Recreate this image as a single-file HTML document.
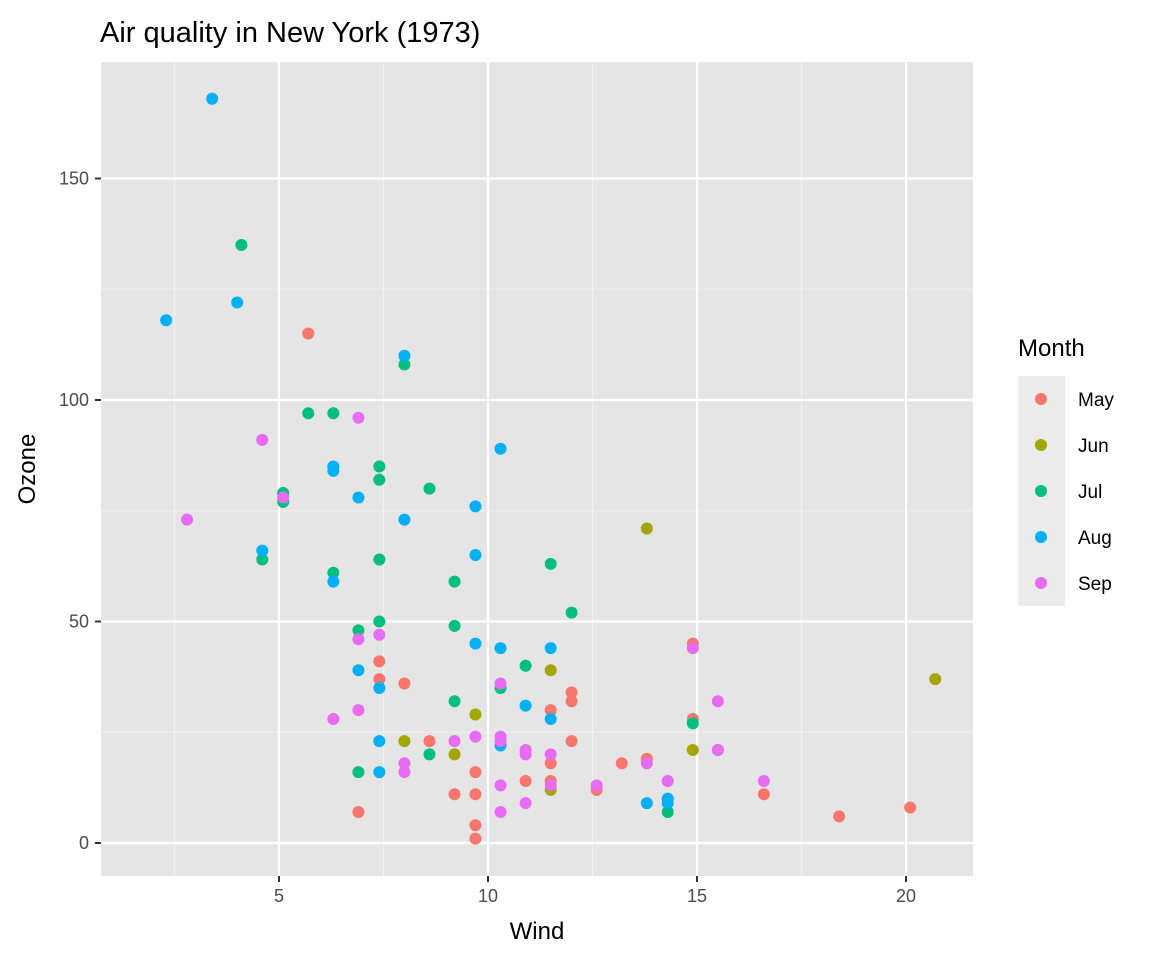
<!DOCTYPE html>
<html><head><meta charset="utf-8"><style>
body{margin:0;background:#fff;font-family:"Liberation Sans",Arial,sans-serif}
</style></head><body>
<svg id="chart" width="1152" height="960" xmlns="http://www.w3.org/2000/svg">
<text x="100" y="42" font-size="29" fill="#000">Air quality in New York (1973)</text>
<rect x="101" y="62" width="872" height="814" fill="#e5e5e5"/>
<g id="grid"></g>
<g id="axes"></g>
<g id="points"></g>
<text x="537" y="939" font-size="24" text-anchor="middle" fill="#000">Wind</text>
<text transform="translate(35,469) rotate(-90)" font-size="24" text-anchor="middle" fill="#000">Ozone</text>
<g id="legend">
<text x="1018" y="356" font-size="24" fill="#000">Month</text>
<rect x="1018" y="376" width="47" height="230" fill="#ebebeb"/>
</g>
</svg>
<script>
const months = ["May","Jun","Jul","Aug","Sep"];
const colors = ["#F8766D","#A3A500","#00BF7D","#00B0F6","#E76BF3"];
const xTicks = [5,10,15,20];
const yTicks = [0,50,100,150];
const xMinor = [2.5,7.5,12.5,17.5];
const yMinor = [25,75,125];
const windMay = [7.4,8.0,12.6,11.5,14.9,8.6,13.8,20.1,6.9,9.7,9.2,10.9,13.2,11.5,12.0,18.4,11.5,9.7,9.7,16.6,9.7,12.0,12.0,14.9,5.7,7.4];
const ozoneMay = [41,36,12,18,28,23,19,8,7,16,11,14,18,14,34,6,30,11,1,11,4,32,23,45,115,37];
const windJun = [13.8,20.7,11.5,9.7,8.0,9.2,14.9,11.5];
const ozoneJun = [71,37,39,29,23,20,21,12];
const windJul = [4.1,8.0,5.7,6.3,7.4,7.4,8.6,5.1,5.1,4.6,6.3,7.4,9.2,11.5,12.0,7.4,6.9,9.2,10.9,10.3,9.2,14.9,8.6,6.9,14.3,14.3];
const ozoneJul = [135,108,97,97,85,82,80,79,77,64,61,64,59,63,52,50,48,49,40,35,32,27,20,16,10,7];
const windAug = [3.4,2.3,4.0,8.0,6.3,6.3,10.3,6.9,8.0,9.7,4.6,6.3,9.7,9.7,10.3,11.5,6.9,7.4,10.9,11.5,7.4,10.3,7.4,13.8,14.3,15.5,14.3];
const ozoneAug = [168,118,122,110,85,84,89,78,73,76,66,59,65,45,44,44,39,35,31,28,23,22,16,9,9,21,10];
const windSep = [2.8,4.6,6.9,5.1,6.9,7.4,6.3,6.9,8.0,8.0,9.2,9.7,10.3,10.3,10.3,10.9,10.9,11.5,11.5,12.6,13.8,14.3,15.5,15.5,16.6,10.3,10.3,10.9,14.9];
const ozoneSep = [73,91,96,78,46,47,28,30,18,16,23,24,36,23,24,21,20,20,13,13,18,14,32,21,14,13,7,9,44];
const seriesWind = [windMay,windJun,windJul,windAug,windSep];
const seriesOzone = [ozoneMay,ozoneJun,ozoneJul,ozoneAug,ozoneSep];

const NS="http://www.w3.org/2000/svg";
function X(v){return 70+v*41.8;}
function Y(v){return 843-v*4.43;}
function mk(tag,attrs,parent){const e=document.createElementNS(NS,tag);for(const k in attrs)e.setAttribute(k,attrs[k]);parent.appendChild(e);return e;}
const grid=document.getElementById('grid'),axes=document.getElementById('axes'),pts=document.getElementById('points'),leg=document.getElementById('legend');
xMinor.forEach(v=>{const l=mk('line',{x1:X(v),x2:X(v),y1:62,y2:876,stroke:'#f2f2f2','stroke-width':1.1},grid);

});
yMinor.forEach(v=>{const l=mk('line',{x1:101,x2:973,y1:Y(v),y2:Y(v),stroke:'#f2f2f2','stroke-width':1.1},grid);

});
xTicks.forEach(v=>{const l=mk('line',{x1:X(v),x2:X(v),y1:62,y2:876,stroke:'#fff','stroke-width':2.2},grid);


const t=mk('line',{x1:X(v),x2:X(v),y1:876,y2:882,stroke:'#333','stroke-width':2},axes);


const tx=mk('text',{x:X(v),y:902,'font-size':18,fill:'#4d4d4d','text-anchor':'middle'},axes);tx.textContent=v;

});
yTicks.forEach(v=>{const l=mk('line',{x1:101,x2:973,y1:Y(v),y2:Y(v),stroke:'#fff','stroke-width':2.2},grid);


const t=mk('line',{x1:95,x2:101,y1:Y(v),y2:Y(v),stroke:'#333','stroke-width':2},axes);


const tx=mk('text',{x:89,y:Y(v)+6,'font-size':18,fill:'#4d4d4d','text-anchor':'end'},axes);tx.textContent=v;

});
seriesWind.forEach((ws,i)=>{ws.forEach((w,j)=>{const c=mk('circle',{cx:X(w),cy:Y(seriesOzone[i][j]),r:6,fill:colors[i]},pts);

});});
months.forEach((m,i)=>{const y=399+i*46;
const c=mk('circle',{cx:1041,cy:y,r:6,fill:colors[i]},leg);


const t=mk('text',{x:1078,y:y+7,'font-size':19,fill:'#000'},leg);t.textContent=m;

});
</script>
</body></html>
